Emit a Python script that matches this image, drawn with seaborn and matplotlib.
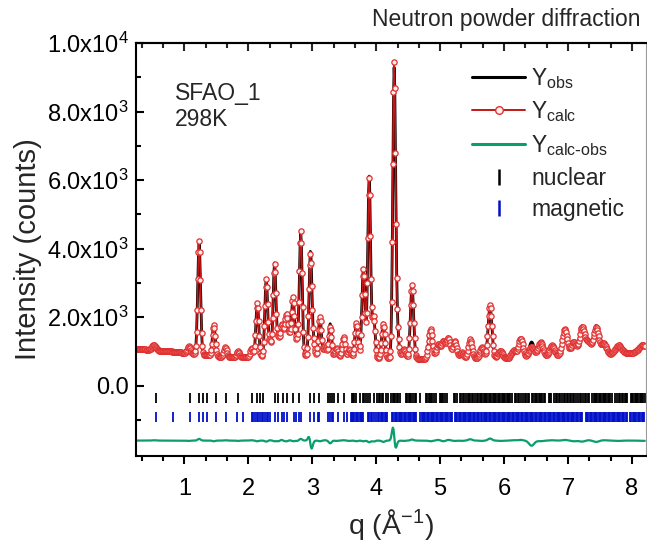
import numpy as np
import pandas as pd
import seaborn as sns
import matplotlib.pyplot as plt
from matplotlib.lines import Line2D
from matplotlib.ticker import FixedLocator, FuncFormatter

# background points (q, counts)
bg_q = [0.25, 0.5, 0.8, 1.0, 1.3, 1.6, 2.0, 2.5, 3.0, 3.5, 4.0, 4.5, 5.0, 5.5, 6.0, 6.5, 7.0, 7.5, 8.0, 8.25]
bg_i = [1080, 1040, 1000, 960, 900, 840, 830, 860, 870, 830, 800, 780, 790, 790, 800, 830, 850, 900, 950, 1080]

# peaks: position, calc amplitude, obs amplitude, width
peak_q = [0.52, 1.07, 1.23, 1.46, 1.64, 1.84, 2.05, 2.14, 2.28, 2.34, 2.41, 2.47, 2.52, 2.56,
          2.60, 2.65, 2.70, 2.76, 2.82, 2.97, 3.02, 3.12, 3.20, 3.28, 3.38, 3.49, 3.58, 3.69,
          3.80, 3.89, 3.96, 4.11, 4.28, 4.33, 4.43, 4.56, 4.85, 4.97, 5.05, 5.13, 5.23, 5.34,
          5.47, 5.65, 5.78, 5.94, 6.15, 6.26, 6.43, 6.57, 6.75, 6.95, 7.09, 7.22, 7.32, 7.44,
          7.56, 7.79, 8.16]
calc_amp = [160, 200, 3300, 900, 300, 170, 270, 1580, 2250, 400, 2700, 500, 850, 500,
            1150, 500, 1700, 400, 3650, 2950, 300, 1150, 300, 880, 250, 600, 250, 1000,
            2600, 5250, 1200, 1000, 8600, 800, 280, 2150, 860, 420, 500, 600, 500, 180,
            560, 330, 1560, 220, 220, 560, 300, 440, 340, 800, 420, 830, 380, 820,
            320, 250, 150]
obs_amp = [150, 210, 3250, 920, 290, 180, 260, 1600, 2280, 390, 2720, 520, 830, 510,
           1170, 490, 1720, 410, 3600, 3050, 310, 1170, 290, 960, 260, 590, 260, 1020,
           2620, 5300, 1230, 1040, 8450, 820, 290, 2120, 880, 400, 520, 580, 510, 190,
           520, 340, 1500, 230, 210, 540, 450, 460, 330, 780, 440, 860, 370, 860,
           310, 260, 160]
peak_w = [0.03, 0.025, 0.022, 0.022, 0.022, 0.022, 0.022, 0.022, 0.022, 0.02, 0.022, 0.02, 0.02, 0.02,
          0.022, 0.02, 0.022, 0.02, 0.022, 0.022, 0.02, 0.022, 0.022, 0.022, 0.022, 0.022, 0.022, 0.024,
          0.024, 0.022, 0.022, 0.024, 0.022, 0.022, 0.03, 0.025, 0.03, 0.03, 0.03, 0.03, 0.03, 0.03,
          0.03, 0.03, 0.03, 0.035, 0.035, 0.035, 0.04, 0.04, 0.04, 0.04, 0.04, 0.04, 0.04, 0.04,
          0.04, 0.05, 0.05]
obs_shift = {2.97: 0.002, 4.28: 0.0012}

# reflection positions (q)
nuclear = [0.556, 1.09, 1.225, 1.29, 1.36, 1.49, 1.65, 1.84, 2.05, 2.13, 2.18, 2.23, 2.42, 2.47,
           2.54, 2.60, 2.70, 2.80, 2.97, 3.02, 3.10, 3.25, 3.28, 3.31, 3.34, 3.41, 3.49, 3.62,
           3.64, 3.66, 3.69, 3.74, 3.79, 3.81, 3.84, 3.87, 3.90, 3.97, 4.02, 4.04, 4.06, 4.09,
           4.11, 4.16, 4.18, 4.23, 4.26, 4.28, 4.30, 4.32, 4.34, 4.37, 4.46, 4.48, 4.51, 4.53,
           4.55, 4.58, 4.60, 4.62, 4.68, 4.78, 4.80, 4.82, 4.84, 4.86, 4.88, 4.90, 4.93, 4.99,
           5.01, 5.03, 5.05, 5.08, 5.10, 5.22, 5.24, 5.27, 5.31, 5.33, 5.36, 5.38, 5.40, 5.43,
           5.45, 5.47, 5.50, 5.52, 5.54, 5.57, 5.59, 5.62, 5.64, 5.66, 5.68, 5.70, 5.72, 5.74,
           5.76, 5.78, 5.80, 5.82, 5.84, 5.86, 5.88, 5.90, 5.92, 5.94, 5.96, 5.98, 6.00, 6.02,
           6.04, 6.06, 6.08, 6.10, 6.12, 6.17, 6.19, 6.21, 6.24, 6.27, 6.29, 6.32, 6.35, 6.37,
           6.39, 6.44, 6.46, 6.48, 6.50, 6.52, 6.54, 6.56, 6.58, 6.60, 6.62, 6.64, 6.70, 6.72,
           6.74, 6.78, 6.81, 6.83, 6.86, 6.88, 6.91, 6.93, 6.95, 6.98, 7.00, 7.03, 7.05, 7.08,
           7.10, 7.13, 7.16, 7.18, 7.21, 7.23, 7.26, 7.28, 7.31, 7.33, 7.38, 7.40, 7.42, 7.44,
           7.46, 7.48, 7.50, 7.52, 7.54, 7.56, 7.58, 7.60, 7.62, 7.64, 7.66, 7.68, 7.74, 7.76,
           7.79, 7.81, 7.84, 7.86, 7.89, 7.91, 7.93, 7.98, 8.00, 8.02, 8.04, 8.06, 8.08, 8.10,
           8.12, 8.14, 8.16, 8.18, 8.20]
magnetic = [0.556, 0.82, 1.09, 1.225, 1.29, 1.36, 1.49, 1.65, 1.83, 1.91, 2.05, 2.07, 2.10, 2.13,
            2.15, 2.18, 2.21, 2.23, 2.26, 2.29, 2.31, 2.34, 2.42, 2.47, 2.53, 2.55, 2.60, 2.72,
            2.74, 2.80, 2.82, 2.97, 3.02, 3.09, 3.11, 3.25, 3.27, 3.31, 3.33, 3.41, 3.49, 3.54,
            3.60, 3.62, 3.64, 3.66, 3.68, 3.70, 3.72, 3.74, 3.76, 3.78, 3.80, 3.87, 3.89, 3.92,
            3.94, 3.97, 4.00, 4.03, 4.05, 4.07, 4.09, 4.11, 4.13, 4.15, 4.17, 4.25, 4.27, 4.29,
            4.31, 4.33, 4.35, 4.37, 4.39, 4.41, 4.43, 4.45, 4.47, 4.49, 4.51, 4.53, 4.55, 4.57,
            4.59, 4.61, 4.63, 4.69, 4.71, 4.73, 4.75, 4.77, 4.79, 4.81, 4.83, 4.85, 4.87, 4.89,
            4.91, 4.93, 4.95, 4.97, 4.99, 5.01, 5.03, 5.05, 5.07, 5.09, 5.11, 5.13, 5.15, 5.17,
            5.19, 5.23, 5.25, 5.27, 5.29, 5.31, 5.33, 5.35, 5.37, 5.39, 5.41, 5.43, 5.45, 5.47,
            5.49, 5.51, 5.53, 5.55, 5.57, 5.59, 5.61, 5.64, 5.66, 5.68, 5.70, 5.72, 5.74, 5.76,
            5.78, 5.80, 5.82, 5.84, 5.86, 5.88, 5.90, 5.92, 5.94, 5.96, 5.98, 6.00, 6.02, 6.04,
            6.06, 6.08, 6.10, 6.12, 6.14, 6.16, 6.18, 6.20, 6.22, 6.24, 6.26, 6.28, 6.30, 6.32,
            6.34, 6.36, 6.38, 6.40, 6.42, 6.44, 6.46, 6.48, 6.50, 6.52, 6.54, 6.56, 6.58, 6.60,
            6.62, 6.64, 6.66, 6.68, 6.70, 6.72, 6.74, 6.76, 6.78, 6.80, 6.82, 6.84, 6.86, 6.88,
            6.90, 6.92, 6.94, 6.96, 6.98, 7.00, 7.02, 7.04, 7.06, 7.08, 7.10, 7.12, 7.14, 7.16,
            7.18, 7.20, 7.22, 7.28, 7.30, 7.32, 7.34, 7.36, 7.38, 7.40, 7.42, 7.44, 7.46, 7.48,
            7.50, 7.52, 7.54, 7.56, 7.58, 7.60, 7.62, 7.64, 7.66, 7.68, 7.70, 7.72, 7.74, 7.76,
            7.78, 7.80, 7.82, 7.84, 7.86, 7.88, 7.90, 7.92, 7.97, 7.99, 8.01, 8.03, 8.05, 8.07,
            8.09, 8.11, 8.13, 8.15, 8.17, 8.19]

ytick_vals = [0, 2000, 4000, 6000, 8000, 10000]
xtick_vals = [1, 2, 3, 4, 5, 6, 7, 8]

# profile on the measurement grid
q = np.arange(0.25, 8.205, 0.01)
bg = np.interp(q, bg_q, bg_i)
ycalc = bg.copy()
yobs = bg.copy()
for p, ac, ao, w in zip(peak_q, calc_amp, obs_amp, peak_w):
    ycalc += ac * np.exp(-(q - p) ** 2 / (2 * w ** 2))
    po = p + obs_shift.get(p, 0.0)
    yobs += ao * np.exp(-(q - po) ** 2 / (2 * w ** 2))
ydiff = ycalc - yobs - 1600
df = pd.DataFrame({'q': q, 'obs': yobs, 'calc': ycalc, 'diff': ydiff})

sns.set_theme(style='ticks')
plt.rcParams['font.family'] = ['Liberation Sans', 'DejaVu Sans']
plt.rcParams['mathtext.default'] = 'regular'

fig = plt.figure(figsize=(6.47, 5.5), dpi=100)
ax = fig.add_axes([0.2102, 0.1709, 0.7883, 0.7509])

red = '#c41616'
green = '#0a9e6a'
blue = '#0010c8'

sns.lineplot(data=df, x='q', y='obs', color='black', lw=2.0, ax=ax, estimator=None, sort=False)
sns.lineplot(data=df, x='q', y='calc', color=red, lw=1.2, marker='o', markersize=3.8,
             markerfacecolor='#ffeeee', markeredgecolor='#e03030', markeredgewidth=0.9,
             ax=ax, estimator=None, sort=False)
sns.lineplot(data=df, x='q', y='diff', color=green, lw=1.6, ax=ax, estimator=None, sort=False)

ax.vlines(nuclear, -500, -200, color='black', lw=1.3)
ax.vlines(magnetic, -1060, -770, color=blue, lw=1.3)

ax.set_xlim(0.243, 8.22)
ax.set_ylim(-2050, 10000)

xminor = [v / 3 for v in range(1, 25) if v % 3]
ax.xaxis.set_major_locator(FixedLocator(xtick_vals))
ax.xaxis.set_minor_locator(FixedLocator(xminor))
ax.yaxis.set_major_locator(FixedLocator(ytick_vals))
ax.yaxis.set_minor_locator(FixedLocator([-1000, 1000, 3000, 5000, 7000, 9000]))


def fmt(v, pos):
    if v == 0:
        return '0.0'
    e = int(np.floor(np.log10(v)))
    return r'$%.1fx10^{%d}$' % (v / 10 ** e, e)


ax.yaxis.set_major_formatter(FuncFormatter(fmt))

for s in ax.spines.values():
    s.set_linewidth(1.5)
    s.set_color('black')
ax.spines['right'].set_linewidth(0.8)
ax.spines['right'].set_color('#999999')

ax.tick_params(axis='y', which='both', direction='in', left=True, right=False,
               labelsize=17, colors='black', width=1.5, pad=5)
ax.tick_params(axis='y', which='major', length=6)
ax.tick_params(axis='y', which='minor', length=3.5)
ax.tick_params(axis='x', which='both', direction='out', top=False, bottom=True,
               labelsize=17, colors='black', width=1.5, pad=10)
ax.tick_params(axis='x', which='major', length=6)
ax.tick_params(axis='x', which='minor', length=3.5)

# mirrored ticks along the top edge, pointing inward
top = ax.secondary_xaxis('top')
top.xaxis.set_major_locator(FixedLocator(xtick_vals))
top.xaxis.set_minor_locator(FixedLocator(xminor))
top.tick_params(which='both', direction='in', labeltop=False, width=1.5)
top.tick_params(which='major', length=6)
top.tick_params(which='minor', length=3.5)
top.spines['top'].set_linewidth(1.5)

ax.set_xlabel(r'q (Å$^{-1}$)', fontsize=20.5, labelpad=5)
ax.set_ylabel('Intensity (counts)', fontsize=21, labelpad=4)

ax.text(0.077, 0.905, 'SFAO_1\n298K', transform=ax.transAxes, ha='left', va='top',
        fontsize=16.5, linespacing=1.15)
ax.text(0.99, 1.03, 'Neutron powder diffraction', transform=ax.transAxes,
        ha='right', va='bottom', fontsize=16.5)

handles = [
    Line2D([], [], color='black', lw=2.2),
    Line2D([], [], color=red, lw=1.4, marker='o', markersize=5.5,
           markerfacecolor='#ffeeee', markeredgecolor='#e03030', markeredgewidth=1.0),
    Line2D([], [], color=green, lw=2.2),
    Line2D([], [], color='black', ls='none', marker='|', markersize=12, markeredgewidth=1.8),
    Line2D([], [], color=blue, ls='none', marker='|', markersize=12, markeredgewidth=1.8),
]
labels = [r'Y$_{obs}$', r'Y$_{calc}$', r'Y$_{calc\text{-}obs}$', 'nuclear', 'magnetic']
ax.legend(handles, labels, loc='upper left', bbox_to_anchor=(0.658, 0.945), frameon=False,
          fontsize=16.5, handlelength=2.35, handletextpad=0.25, labelspacing=0.38, borderpad=0,
          borderaxespad=0)

fig.savefig('out.png', dpi=100)
